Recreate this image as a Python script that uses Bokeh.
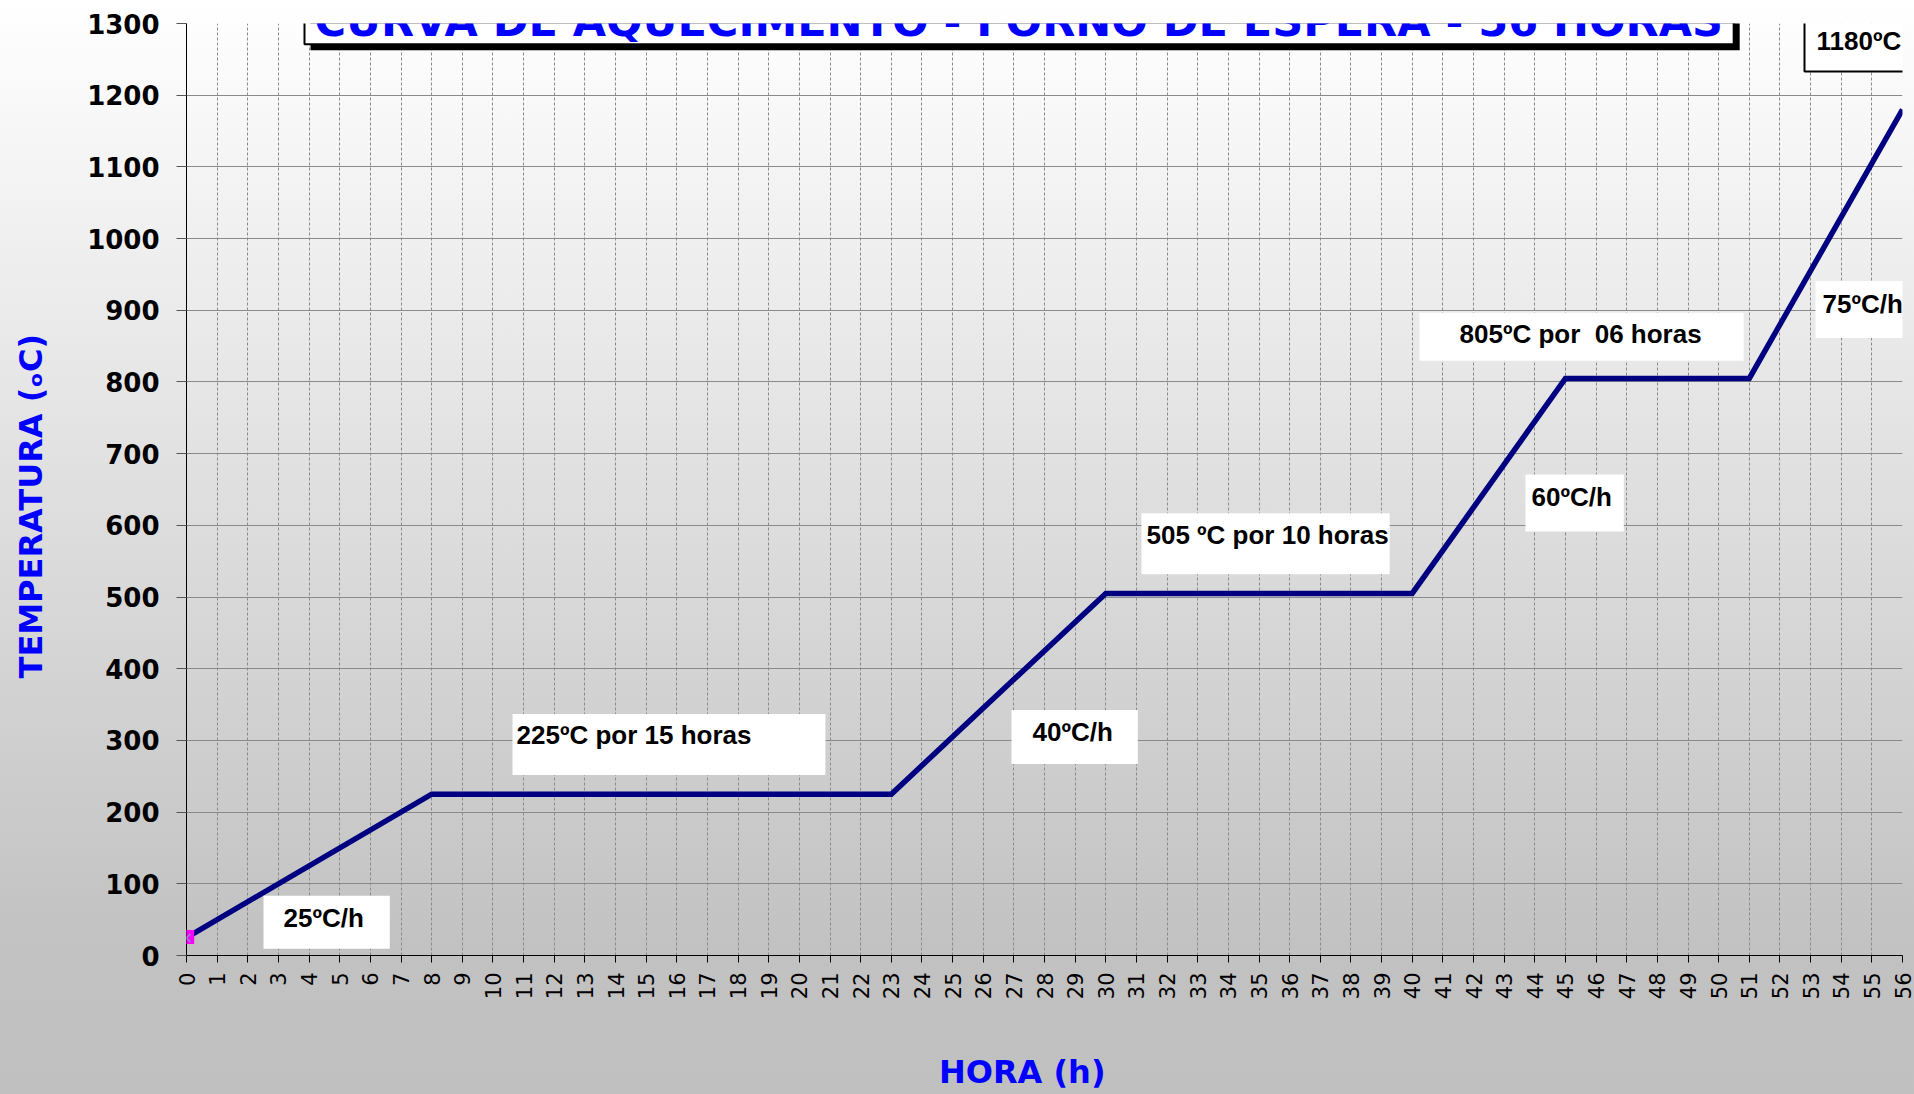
import math
from bokeh.plotting import figure
from bokeh.models import Range1d, Label
from bokeh.embed import file_html
from bokeh.resources import INLINE

# ---- data ----
hours = [0, 8, 23, 30, 40, 45, 51, 56]
temps = [25, 225, 225, 505, 505, 805, 805, 1180]
start_hour = [0]
start_temp = [25]
x_ticks = list(range(0, 57))
y_ticks = list(range(0, 1301, 100))

title_text = "CURVA DE AQUECIMENTO - FORNO DE ESPERA - 56 HORAS"
x_label = "HORA (h)" + "\u00a0" * 4
y_label = "TEMPERATURA (\u2092C)" + "\u00a0" * 3

note_texts = ["25ºC/h", "225ºC por 15 horas", "40ºC/h", "505 ºC por 10 horas",
              "60ºC/h", "805ºC por \u00a006 horas", "75ºC/h"]
# top-left corners of the note boxes (hours, °C)
note_x = [2.513, 10.639, 26.923, 31.165, 43.697, 40.238, 53.161]
note_y = [83.2, 336.8, 342.3, 616.7, 670.8, 896.7, 941.0]
note_pads = [
    dict(left=20, right=26, top=7, bottom=16),
    dict(left=4, right=74, top=6, bottom=25),
    dict(left=21, right=25, top=7, bottom=17),
    dict(left=5, right=1, top=7, bottom=24),
    dict(left=6, right=12, top=7, bottom=20),
    dict(left=40, right=42, top=6, bottom=12),
    dict(left=7, right=24, top=8, bottom=19),
]
max_text = "1180ºC"

W, H = 1914, 1094
p = figure(width=W, height=H, output_backend="svg", toolbar_location=None,
           x_range=Range1d(0, 56), y_range=Range1d(0, 1300),
           min_border_left=186, min_border_right=12, min_border_top=23,
           min_border_bottom=133)
p.border_fill_color = None
p.background_fill_color = None
p.outline_line_color = None
p.styles = {"background": "linear-gradient(to bottom, #ffffff 0%, #c2c2c2 86%, #c0c0c0 100%)"}

# axes
p.xaxis.ticker = x_ticks
p.yaxis.ticker = y_ticks
p.xaxis.major_label_orientation = math.pi / 2
p.xaxis.major_label_text_font = "DejaVu Sans"
p.xaxis.major_label_text_font_size = "21px"
p.xaxis.major_label_text_color = "black"
p.xaxis.major_label_standoff = 10
p.xaxis.major_tick_out = 7
p.xaxis.major_tick_in = 0
p.xaxis.minor_tick_line_color = None
p.xaxis.axis_line_color = "black"
p.xaxis.major_tick_line_color = "black"
p.xaxis.axis_label = x_label
p.xaxis.axis_label_text_font = "DejaVu Sans"
p.xaxis.axis_label_text_font_style = "bold"
p.xaxis.axis_label_text_font_size = "32px"
p.xaxis.axis_label_text_color = "#0000FF"
p.xaxis.axis_label_standoff = 51

p.yaxis.major_label_text_font = "DejaVu Sans"
p.yaxis.major_label_text_font_style = "bold"
p.yaxis.major_label_text_font_size = "26px"
p.yaxis.major_label_text_color = "black"
p.yaxis.major_label_standoff = 17
p.yaxis.major_tick_out = 10
p.yaxis.major_tick_in = 0
p.yaxis.minor_tick_line_color = None
p.yaxis.axis_line_color = "black"
p.yaxis.major_tick_line_color = "#555555"
p.yaxis.axis_label = y_label
p.yaxis.axis_label_text_font = "DejaVu Sans"
p.yaxis.axis_label_text_font_style = "bold"
p.yaxis.axis_label_text_font_size = "32px"
p.yaxis.axis_label_text_color = "#0000FF"
p.yaxis.axis_label_standoff = 34

# grids
p.ygrid.grid_line_color = "#8a8a8a"
p.ygrid.grid_line_width = 1
p.xgrid.grid_line_color = "#8a8a8a"
p.xgrid.grid_line_width = 1
p.xgrid.grid_line_dash = "3 2"

# curve
p.line(hours, temps, line_color="#000080", line_width=5.5, line_join="miter")

# start point marker: magenta square with a cross on the first data point
p.add_layout(Label(x=start_hour[0], y=start_temp[0], x_offset=-7.5, y_offset=7.5,
                   text="\u00a0", text_font="DejaVu Sans", text_font_size="10px",
                   text_color="#FF00FF", text_align="left", text_baseline="top",
                   background_fill_color="#FF00FF",
                   padding=dict(left=6, right=6, top=2, bottom=1)))
p.add_layout(Label(x=start_hour[0], y=start_temp[0], x_offset=-6.7, y_offset=9.7,
                   text="\u00d7", text_font="DejaVu Sans", text_font_size="16px",
                   text_color="#9090c0", text_align="left", text_baseline="top"))

# annotation boxes
FONT = "Liberation Sans"
for t, x, y, pad in zip(note_texts, note_x, note_y, note_pads):
    p.add_layout(Label(x=x, y=y, text=t, text_font=FONT, text_font_style="bold",
                       text_font_size="26px", text_color="black",
                       text_baseline="top", text_align="left",
                       background_fill_color="white", padding=pad))

p.add_layout(Label(x=52.802, y=1305.5, text=max_text, text_font=FONT,
                   text_font_style="bold", text_font_size="26px", text_color="black",
                   text_baseline="top", text_align="left",
                   background_fill_color="white", border_line_color="black",
                   border_line_width=2,
                   padding=dict(left=12, right=18, top=6, bottom=16)))

# title: shadow box, white box (blank boxes sized by padding), then the text
box_pad = dict(left=0, right=1426, top=25, bottom=25)
box_x, box_y = 3.851, 1356.3
p.add_layout(Label(x=box_x, y=box_y, x_offset=6, y_offset=-6, text="\u00a0",
                   text_font="DejaVu Sans", text_font_size="10px",
                   text_color="black", text_baseline="top", text_align="left",
                   background_fill_color="black", padding=box_pad))
p.add_layout(Label(x=box_x, y=box_y, text="\u00a0",
                   text_font="DejaVu Sans", text_font_size="10px",
                   text_color="white", text_baseline="top", text_align="left",
                   background_fill_color="white", border_line_color="black",
                   border_line_width=2, padding=box_pad))
p.add_layout(Label(x=4.177, y=1338.1, text=title_text,
                   text_font="DejaVu Sans", text_font_style="bold",
                   text_font_size="43px", text_color="#0000FF",
                   text_baseline="top", text_align="left"))

open("out.html", "w").write(file_html(p, INLINE))
